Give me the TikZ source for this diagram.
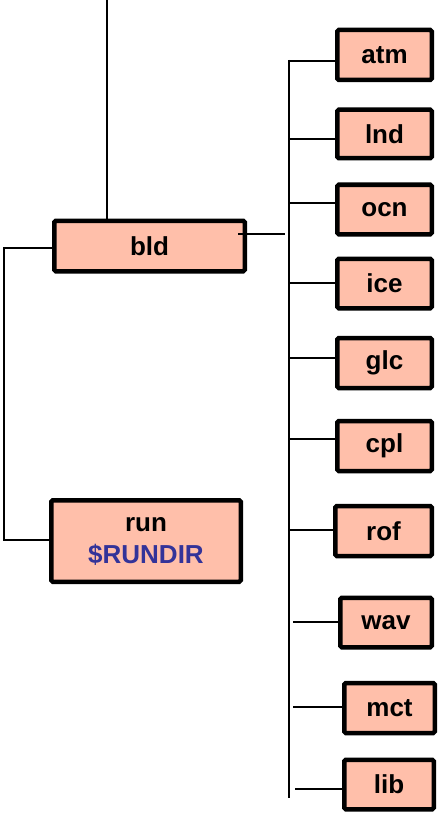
\documentclass[tikz,border=0pt]{standalone}
\usepackage{fontspec}
\setmainfont{Liberation Sans}
\definecolor{boxfill}{RGB}{255,191,170}
\definecolor{rundir}{RGB}{51,51,153}
\begin{document}
\begin{tikzpicture}[x=1pt,y=-1pt,
  dirbox/.style={draw=black,fill=boxfill,line width=4.5pt,rounded corners=1.5pt,
    inner sep=0pt,minimum width=#1,minimum height=50pt,align=center,
    font=\fontsize{26}{33}\selectfont\bfseries},
  dirbox/.default=94.5pt,
  wire/.style={line width=1.5pt,black}]
\useasboundingbox (0,0) rectangle (444,813);
% nodes
\node[dirbox=190.5pt,minimum height=50.5pt] (bld) at (149.5,246) {bld};
\node[dirbox=189.5pt,minimum height=81.5pt] (run) at (146,541) {run\\[-1pt]\textcolor{rundir}{\$RUNDIR}};
\node[dirbox] (atm) at (384.5,55) {atm};
\node[dirbox,minimum height=48.5pt] (lnd) at (384.5,134) {lnd};
\node[dirbox,minimum height=49.5pt] (ocn) at (384.5,209.5) {ocn};
\node[dirbox,minimum height=49.5pt] (ice) at (384.5,283.5) {ice};
\node[dirbox] (glc) at (384.5,363) {glc};
\node[dirbox] (cpl) at (384.5,446) {cpl};
\node[dirbox=96.5pt] (rof) at (383.5,531) {rof};
\node[dirbox=91.5pt,minimum height=49.5pt] (wav) at (386,622.5) {wav};
\node[dirbox=90.5pt] (mct) at (389.5,708) {mct};
\node[dirbox=89.5pt,minimum height=49.5pt] (lib) at (389,784.5) {lib};
% coordinates
\coordinate (top) at (107,0);
\coordinate (lft) at (4,248);
\coordinate (lfb) at (4,540);
\coordinate (bs) at (238,234);
\coordinate (be) at (285,234);
\coordinate (tt) at (289,60);
\coordinate (tb) at (289,798);
\coordinate (j1) at (289,61);
\coordinate (j2) at (289,139);
\coordinate (j3) at (289,203);
\coordinate (j4) at (289,283);
\coordinate (j5) at (289,358);
\coordinate (j6) at (289,439);
\coordinate (j7) at (289,530);
\coordinate (j8) at (293,622);
\coordinate (j9) at (293,707);
\coordinate (j10) at (295,789);
% connectors
\draw[wire] (top) -- (top |- bld.north);
\draw[wire] (lft -| bld.west) -- (lft) -- (lfb) -- (lfb -| run.west);
\draw[wire] (bs) -- (be);
\draw[wire] (tt) -- (tb);
\draw[wire] (j1) -- (j1 -| atm.west);
\draw[wire] (j2) -- (j2 -| lnd.west);
\draw[wire] (j3) -- (j3 -| ocn.west);
\draw[wire] (j4) -- (j4 -| ice.west);
\draw[wire] (j5) -- (j5 -| glc.west);
\draw[wire] (j6) -- (j6 -| cpl.west);
\draw[wire] (j7) -- (j7 -| rof.west);
\draw[wire] (j8) -- (j8 -| wav.west);
\draw[wire] (j9) -- (j9 -| mct.west);
\draw[wire] (j10) -- (j10 -| lib.west);
\end{tikzpicture}
\end{document}
